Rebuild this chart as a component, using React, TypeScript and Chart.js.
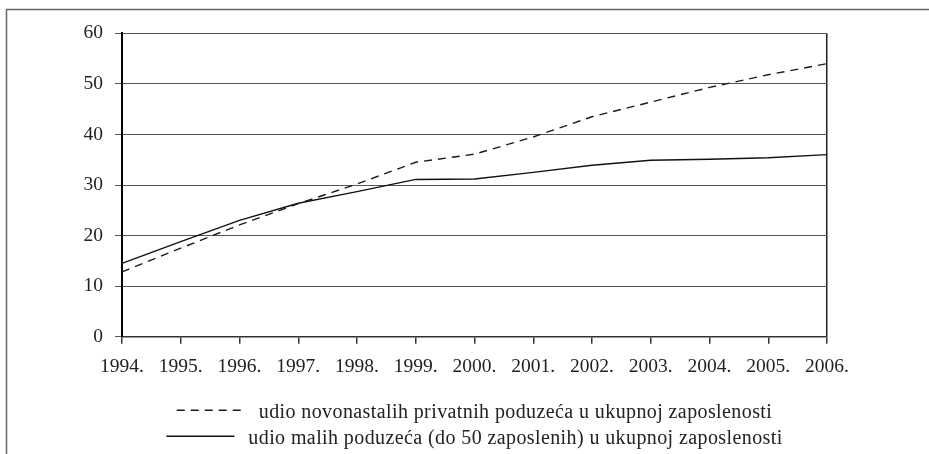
import React, { useEffect, useRef } from "react";
import { Chart, registerables } from "chart.js";

Chart.register(...registerables);

const years = ["1994.", "1995.", "1996.", "1997.", "1998.", "1999.", "2000.", "2001.", "2002.", "2003.", "2004.", "2005.", "2006."];
const novonastaliLabel = "udio novonastalih privatnih poduzeća u ukupnoj zaposlenosti";
const maliLabel = "udio malih poduzeća (do 50 zaposlenih) u ukupnoj zaposlenosti";
const novonastali = [12.8, 17.5, 22.1, 26.3, 30.2, 34.5, 36.1, 39.5, 43.5, 46.4, 49.3, 51.8, 54.0];
const mali = [14.5, 18.8, 23.0, 26.4, 28.7, 31.1, 31.2, 32.5, 33.9, 34.9, 35.1, 35.4, 36.0];
const yTicks = [0, 10, 20, 30, 40, 50, 60];

const FONT = "'Liberation Serif', 'Times New Roman', serif";
const TICK_SIZE = 19.5;
const LEGEND_SIZE = 20;

const framePlugin = {
  id: "frame",
  beforeDraw(chart: any) {
    const ctx = chart.ctx;
    ctx.save();
    ctx.strokeStyle = "#666";
    ctx.lineWidth = 1.5;
    ctx.beginPath();
    ctx.moveTo(6, 9.5);
    ctx.lineTo(chart.width, 9.5);
    ctx.moveTo(6.5, 9);
    ctx.lineTo(6.5, chart.height);
    ctx.stroke();
    ctx.restore();
  },
};

const legendPlugin = {
  id: "customLegend",
  afterDraw(chart: any) {
    const ctx = chart.ctx;
    const area = chart.chartArea;
    const cx = (area.left + area.right) / 2;
    const sampleW = 68;
    const gap = 14;
    const baselines = [418.3, 444.3];
    ctx.save();
    ctx.font = `${LEGEND_SIZE}px ${FONT}`;
    try {
      (ctx as any).letterSpacing = "0.4px";
    } catch (e) {}
    ctx.fillStyle = "#222";
    ctx.textBaseline = "alphabetic";
    ctx.textAlign = "left";
    chart.data.datasets.forEach((ds: any, i: number) => {
      const text = ds.label;
      const tw = ctx.measureText(text).width;
      const total = sampleW + gap + tw;
      const x0 = cx - total / 2;
      const by = baselines[i];
      const ly = by - 8;
      ctx.save();
      ctx.strokeStyle = ds.borderColor;
      ctx.lineWidth = 1.6;
      ctx.setLineDash(ds.borderDash || []);
      ctx.beginPath();
      ctx.moveTo(x0, ly);
      ctx.lineTo(x0 + sampleW, ly);
      ctx.stroke();
      ctx.restore();
      ctx.fillText(text, x0 + sampleW + gap, by);
    });
    ctx.restore();
  },
};

export default function App() {
  const ref = useRef<HTMLCanvasElement | null>(null);
  useEffect(() => {
    if (!ref.current) return;
    const chart = new Chart(ref.current, {
      type: "line",
      data: {
        labels: years,
        datasets: [
          {
            label: novonastaliLabel,
            data: novonastali,
            borderColor: "#1a1a1a",
            borderWidth: 1.4,
            borderDash: [8, 6],
            pointRadius: 0,
            tension: 0,
            fill: false,
          },
          {
            label: maliLabel,
            data: mali,
            borderColor: "#111",
            borderWidth: 1.4,
            pointRadius: 0,
            tension: 0,
            fill: false,
          },
        ],
      },
      options: {
        animation: false,
        responsive: false,
        layout: { padding: { left: 0, top: 33.3, right: 102, bottom: 0 } },
        plugins: {
          legend: { display: false },
          tooltip: { enabled: false },
        },
        scales: {
          x: {
            offset: false,
            grid: {
              display: true,
              drawOnChartArea: true,
              color: (c: any) => (c.index === years.length - 1 ? "#222" : "rgba(0,0,0,0)"),
              lineWidth: 1.5,
              tickColor: "#333",
              tickLength: 7,
            },
            border: { display: true, color: "#333", width: 1.5 },
            ticks: {
              color: "#222",
              font: { family: FONT, size: TICK_SIZE },
              padding: 11,
              maxRotation: 0,
              autoSkip: false,
            },
            afterFit(scale: any) {
              scale.height = 117.3;
            },
          },
          y: {
            min: 0,
            max: 60,
            afterBuildTicks(scale: any) {
              scale.ticks = yTicks.map((v) => ({ value: v }));
            },
            grid: {
              color: "#555",
              lineWidth: 1,
              tickColor: "#555",
              tickLength: 7,
            },
            border: { display: true, color: "#000", width: 2 },
            ticks: {
              color: "#222",
              font: { family: FONT, size: TICK_SIZE },
              padding: 12,
            },
            afterFit(scale: any) {
              scale.width = 122;
            },
          },
        },
      },
      plugins: [framePlugin, legendPlugin],
    });
    return () => chart.destroy();
  }, []);
  return (
    <div style={{ position: "absolute", left: 0, top: 0, width: 929, height: 454, background: "#fff" }}>
      <canvas ref={ref} width={929} height={454} />
    </div>
  );
}
